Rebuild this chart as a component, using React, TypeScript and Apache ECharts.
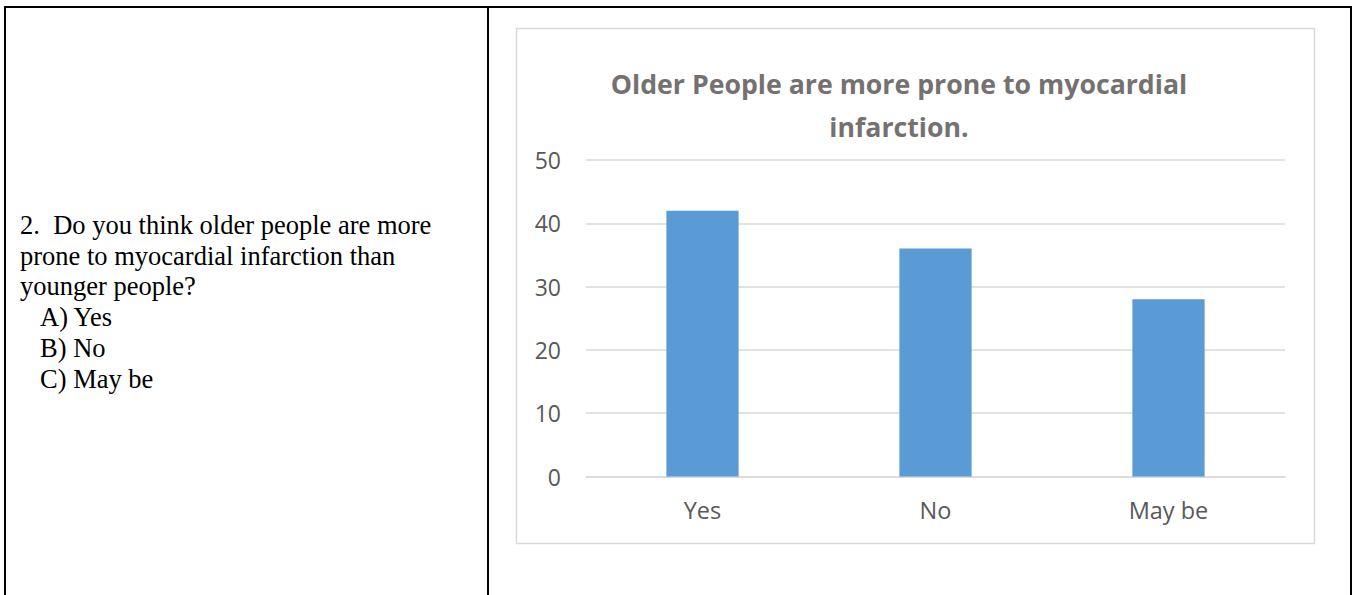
import React, { useEffect, useRef } from "react";
import * as echarts from "echarts";

const categories = ["Yes", "No", "May be"];
const values = [42, 36, 28];
const yTicks = { min: 0, max: 50, interval: 10 };
const chartTitle = "Older People are more prone to myocardial\ninfarction.";
const questionLines = [
  "2.  Do you think older people are more",
  "prone to myocardial infarction than",
  "younger people?",
];
const optionLines = ["A) Yes", "B) No", "C) May be"];

export default function App() {
  const ref = useRef<HTMLDivElement>(null);
  useEffect(() => {
    if (!ref.current) return;
    const chart = echarts.init(ref.current, undefined, { renderer: "svg" });
    const baselines = [238, 269, 299, 330, 361, 392];
    const serif = "'Liberation Serif', 'Times New Roman', serif";
    const leftTexts: any[] = [];
    questionLines.forEach((t, i) =>
      leftTexts.push({
        type: "text",
        x: 20,
        y: baselines[i],
        style: { text: t, font: `26.5px ${serif}`, fill: "#000", verticalAlign: "bottom", textBaseline: "alphabetic" },
      })
    );
    optionLines.forEach((t, i) =>
      leftTexts.push({
        type: "text",
        x: 40,
        y: baselines[i + 3],
        style: { text: t, font: `26.5px ${serif}`, fill: "#000", verticalAlign: "bottom", textBaseline: "alphabetic" },
      })
    );
    chart.setOption({
      animation: false,
      title: {
        text: chartTitle,
        left: 894,
        textAlign: "center",
        top: 57,
        textStyle: {
          fontFamily: "'Open Sans'",
          fontWeight: "bold",
          fontSize: 26.7,
          lineHeight: 43,
          color: "#757171",
        },
      },
      grid: { left: 586, right: 69, top: 160, bottom: 118.5 },
      xAxis: {
        type: "category",
        data: categories,
        axisLine: { lineStyle: { color: "#d9d9d9", width: 1.5 } },
        axisTick: { show: false },
        axisLabel: {
          fontFamily: "'Open Sans'",
          fontSize: 23.5,
          color: "#595959",
          margin: 21,
        },
      },
      yAxis: {
        type: "value",
        min: yTicks.min,
        max: yTicks.max,
        interval: yTicks.interval,
        axisLine: { show: false },
        axisTick: { show: false },
        splitLine: { lineStyle: { color: "#d9d9d9", width: 1.5 } },
        axisLabel: {
          fontFamily: "'Open Sans'",
          fontSize: 23,
          color: "#595959",
          margin: 25,
        },
      },
      series: [
        {
          type: "bar",
          data: values,
          barWidth: "31%",
          itemStyle: { color: "#5b9bd5" },
        },
      ],
      graphic: [
        { type: "rect", shape: { x: 4, y: 6, width: 1348, height: 2 }, style: { fill: "#000" } },
        { type: "rect", shape: { x: 4, y: 6, width: 2, height: 589 }, style: { fill: "#000" } },
        { type: "rect", shape: { x: 487, y: 6, width: 2, height: 589 }, style: { fill: "#000" } },
        { type: "rect", shape: { x: 1350, y: 6, width: 2, height: 589 }, style: { fill: "#000" } },
        {
          type: "rect",
          shape: { x: 516.5, y: 28.5, width: 798, height: 515 },
          style: { fill: "none", stroke: "#d9d9d9", lineWidth: 1.5 },
          z: -1,
        },
        ...leftTexts,
      ],
    });
    return () => chart.dispose();
  }, []);
  return (
    <div
      ref={ref}
      style={{ position: "fixed", left: 0, top: 0, width: 1354, height: 595, background: "#fff" }}
    />
  );
}
